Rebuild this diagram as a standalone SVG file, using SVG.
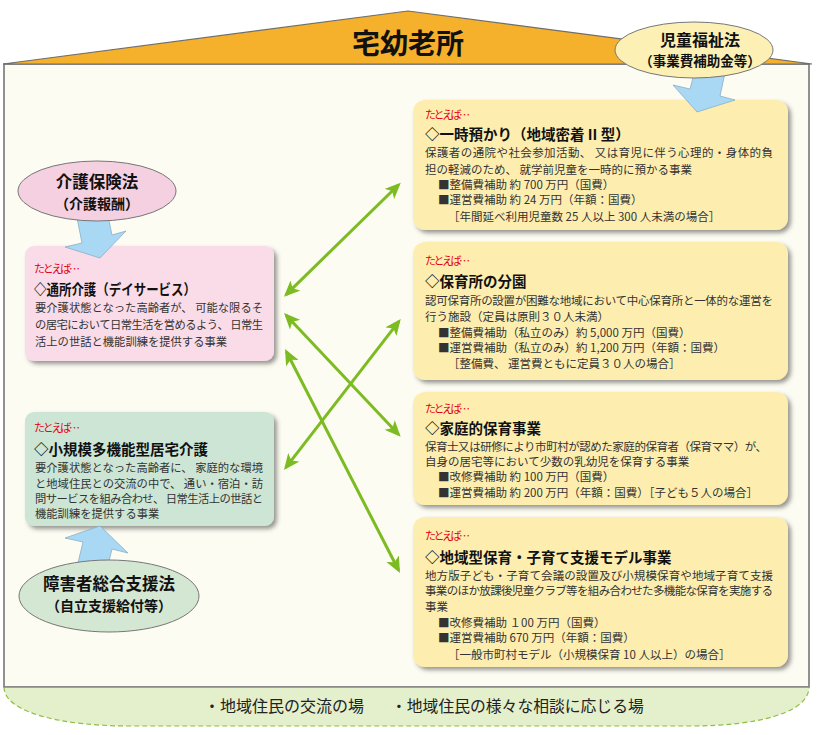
<svg xmlns="http://www.w3.org/2000/svg" width="817" height="735" viewBox="0 0 817 735">
<defs>
<filter id="sh" x="-10%" y="-10%" width="130%" height="130%"><feDropShadow dx="3" dy="3" stdDeviation="2" flood-color="#444" flood-opacity="0.55"/></filter>
<marker id="ah" viewBox="0 0 16 14" markerWidth="16" markerHeight="14" refX="13" refY="7" orient="auto-start-reverse" markerUnits="userSpaceOnUse"><path d="M0,0 L16,7 L0,14 L4,7 Z" fill="#7CBB22"/></marker>
</defs>
<style>
text{font-family:"Noto Sans CJK JP","Noto Sans",sans-serif;dominant-baseline:central}
.ex{fill:#E60012;font-size:11px}
.ti{font-weight:bold;font-size:14.5px;fill:#111}
.bd{font-size:11.5px;fill:#333}
.bl{font-size:11.3px;fill:#333}
.ov{font-weight:bold;fill:#111;text-anchor:middle}
.conn{stroke:#7CBB22;stroke-width:3;fill:none;marker-start:url(#ah);marker-end:url(#ah)}
.blue{fill:#A8D8F3;stroke:#8AAFC8;stroke-width:0.8}
.yb{fill:#FDEEB0;filter:url(#sh)}
.oval{stroke:#777;stroke-width:1}
</style>

<g id="house">
<rect x="4" y="64" width="805" height="623" fill="#FDFCF2" stroke="#6e6e6e" stroke-width="1.5"/>
<path d="M3,64 L408,11 L812,64 Z" fill="#F5B12B" stroke="#6e6e6e" stroke-width="1.2"/>
<text x="408" y="42" class="ov" font-size="28">宅幼老所</text>
</g>

<g id="band">
<path d="M4,687 C4,712 60,726 130,726 L690,726 C760,726 809,712 809,687 Z" fill="#E4EFCB"/>
<path d="M4,687 C4,712 60,726 130,726 L690,726 C760,726 809,712 809,687" fill="none" stroke="#8EC045" stroke-width="1.2" stroke-dasharray="5,3"/>
<line x1="4" y1="687" x2="809" y2="687" stroke="#888" stroke-width="1.5"/>
<text x="204" y="705" font-size="16" fill="#222">・地域住民の交流の場</text>
<text x="391" y="705" font-size="15.8" fill="#222">・地域住民の様々な相談に応じる場</text>
</g>

<g id="connectors">
<path class="conn" d="M286.1,294.6 L398.6,184.8"/>
<path class="conn" d="M286.1,315.2 L398.6,434.5"/>
<path class="conn" d="M286.4,351.7 L398.6,570.3"/>
<path class="conn" d="M285.8,467.6 L398.9,321.4"/>
</g>

<g id="tsusho">
<rect x="25" y="246" width="249" height="115" rx="9" fill="#F9DCE8" filter="url(#sh)"/>
<text x="34" y="268" class="ex" textLength="46">たとえば…</text>
<text x="34" y="288" class="ti" textLength="162" lengthAdjust="spacingAndGlyphs">◇通所介護（デイサービス）</text>
<text x="35" y="307" class="bl" textLength="228">要介護状態となった高齢者が、 可能な限るそ</text>
<text x="35" y="324" class="bl" textLength="228">の居宅において日常生活を営めるよう、 日常生</text>
<text x="35" y="341" class="bl">活上の世話と機能訓練を提供する事業</text>
</g>

<g id="shokibo">
<rect x="25" y="412" width="249" height="114" rx="9" fill="#CDE5D4" filter="url(#sh)"/>
<text x="34" y="427" class="ex" textLength="46">たとえば…</text>
<text x="34" y="448" class="ti">◇小規模多機能型居宅介護</text>
<text x="35" y="467" class="bl" textLength="228">要介護状態となった高齢者に、 家庭的な環境</text>
<text x="35" y="483" class="bl" textLength="228">と地域住民との交流の中で、 通い・宿泊・訪</text>
<text x="35" y="498" class="bl" textLength="228">問サービスを組み合わせ、 日常生活上の世話と</text>
<text x="35" y="513" class="bl">機能訓練を提供する事業</text>
</g>

<g id="ichiji">
<rect x="413" y="100" width="375" height="130" rx="12" class="yb"/>
<text x="425" y="114" class="ex" textLength="45">たとえば…</text>
<text x="425" y="133" class="ti">◇一時預かり（地域密着 II 型）</text>
<text x="425" y="152" class="bd" textLength="348">保護者の通院や社会参加活動、 又は育児に伴う心理的・身体的負</text>
<text x="425" y="169" class="bd">担の軽減のため、 就学前児童を一時的に預かる事業</text>
<text x="438" y="184" class="bd">■整備費補助 約 700 万円（国費）</text>
<text x="438" y="199" class="bd">■運営費補助 約 24 万円（年額：国費）</text>
<text x="448" y="216" class="bd">［年間延べ利用児童数 25 人以上 300 人未満の場合］</text>
</g>

<g id="bunen">
<rect x="413" y="242" width="375" height="138" rx="12" class="yb"/>
<text x="425" y="260" class="ex" textLength="45">たとえば…</text>
<text x="425" y="280" class="ti">◇保育所の分園</text>
<text x="425" y="300" class="bd" textLength="348">認可保育所の設置が困難な地域において中心保育所と一体的な運営を</text>
<text x="425" y="316" class="bd">行う施設（定員は原則３０人未満）</text>
<text x="438" y="332" class="bd">■整備費補助（私立のみ）約 5,000 万円（国費）</text>
<text x="438" y="347" class="bd">■運営費補助（私立のみ）約 1,200 万円（年額：国費）</text>
<text x="448" y="363" class="bd">［整備費、 運営費ともに定員３０人の場合］</text>
</g>

<g id="katei">
<rect x="413" y="392" width="375" height="113" rx="12" class="yb"/>
<text x="425" y="408" class="ex" textLength="45">たとえば…</text>
<text x="425" y="427" class="ti">◇家庭的保育事業</text>
<text x="425" y="446" class="bd" textLength="342">保育士又は研修により市町村が認めた家庭的保育者（保育ママ）が、</text>
<text x="425" y="461" class="bd">自身の居宅等において少数の乳幼児を保育する事業</text>
<text x="438" y="476" class="bd">■改修費補助 約 100 万円（国費）</text>
<text x="438" y="492" class="bd">■運営費補助 約 200 万円（年額：国費）［子ども５人の場合］</text>
</g>

<g id="chiiki">
<rect x="413" y="517" width="375" height="150" rx="12" class="yb"/>
<text x="425" y="535" class="ex" textLength="45">たとえば…</text>
<text x="425" y="556" class="ti">◇地域型保育・子育て支援モデル事業</text>
<text x="425" y="575" class="bd" textLength="348">地方版子ども・子育て会議の設置及び小規模保育や地域子育て支援</text>
<text x="425" y="590" class="bd" textLength="348">事業のほか放課後児童クラブ等を組み合わせた多機能な保育を実施する</text>
<text x="425" y="606" class="bd">事業</text>
<text x="438" y="622" class="bd">■改修費補助 １00 万円（国費）</text>
<text x="438" y="637" class="bd">■運営費補助 670 万円（年額：国費）</text>
<text x="448" y="654" class="bd">［一般市町村モデル（小規模保育 10 人以上）の場合］</text>
</g>

<g id="fund-arrows">
<polygon class="blue" points="77,218 107,211 112,235 126,231 100,258 65,247 82,243"/>
<polygon class="blue" points="100,526 128,553 112,549 106,573 77,567 83,542 65,538"/>
<polygon class="blue" points="697,112 673,85 690,89 696,66 725,73 720,96 735,100"/>
</g>

<g id="kaigo-hoken">
<ellipse cx="97" cy="191" rx="79" ry="30" fill="#F4D0E0" class="oval"/>
<text x="97" y="181" class="ov" font-size="16.5">介護保険法</text>
<text x="97" y="203" class="ov" font-size="14">（介護報酬）</text>
</g>

<g id="shogai">
<ellipse cx="109" cy="596" rx="90" ry="36" fill="#D3E7D2" class="oval"/>
<text x="109" y="583" class="ov" font-size="16.5">障害者総合支援法</text>
<text x="109" y="605" class="ov" font-size="14">（自立支援給付等）</text>
</g>

<g id="jido">
<ellipse cx="694" cy="50" rx="79" ry="28" fill="#FCF0B4" class="oval"/>
<text x="700" y="38.5" class="ov" font-size="16">児童福祉法</text>
<text x="700" y="60" class="ov" font-size="13.5">（事業費補助金等）</text>
</g>
</svg>
